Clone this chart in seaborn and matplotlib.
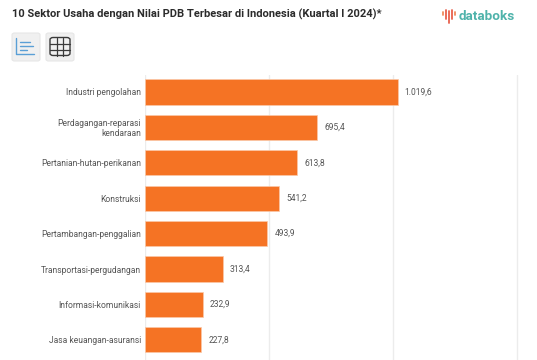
import matplotlib
matplotlib.use('Agg')
import matplotlib.pyplot as plt
import pandas as pd
import seaborn as sns
from matplotlib.patches import FancyBboxPatch
from matplotlib.lines import Line2D

sektor = ['Industri pengolahan', 'Perdagangan-reparasi\nkendaraan', 'Pertanian-hutan-perikanan',
          'Konstruksi', 'Pertambangan-penggalian', 'Transportasi-pergudangan',
          'Informasi-komunikasi', 'Jasa keuangan-asuransi']
nilai = [1019.6, 695.4, 613.8, 541.2, 493.9, 313.4, 232.9, 227.8]
x_ticks = [0, 500, 1000, 1500]

W, H = 537, 360

sns.set_theme(style='white')
plt.rcParams['font.family'] = ['Roboto', 'DejaVu Sans']

df = pd.DataFrame({'sektor': sektor, 'nilai': nilai})

fig = plt.figure(figsize=(W / 100, H / 100), dpi=100)
# axes kira-kira sama dengan area plot di gambar (piksel)
ax = fig.add_axes([145 / W, 0, (W - 145) / W, (H - 75) / H])

sns.barplot(data=df, y='sektor', x='nilai', orient='h', color='#f57324', saturation=1,
            width=0.71, edgecolor='#fbc9a8', linewidth=0.5, ax=ax, zorder=3)

ax.set_xlim(0, 392 / 0.2478)
ax.set_ylim(7.57, -0.48)
ax.set_xticks(x_ticks)
ax.set_xticklabels([])
ax.set_xlabel('')
ax.set_ylabel('')
ax.grid(axis='x', color='#ececec', linewidth=1)
ax.tick_params(axis='x', length=0)
ax.tick_params(axis='y', length=0, pad=3, labelsize=6.15, labelcolor='#555555')
for s in ax.spines.values():
    s.set_visible(False)
for lbl in ax.get_yticklabels():
    lbl.set_linespacing(1.15)

labels = [f'{v:,.1f}'.replace(',', 'X').replace('.', ',').replace('X', '.') for v in nilai]
ax.bar_label(ax.containers[0], labels=labels, padding=5, fontsize=6.15, color='#555555')

fig.text(12 / W, 1 - 14 / H, '10 Sektor Usaha dengan Nilai PDB Terbesar di Indonesia (Kuartal I 2024)*',
         fontsize=8.0, fontweight='bold', color='#2b2b2b', va='center', ha='left')
fig.text(459 / W, 1 - 16 / H, 'databoks', fontsize=9.7, fontweight='bold', color='#4fb3ab',
         va='center', ha='left')


def px_line(xs, ys, color, lw=1.0):
    fig.add_artist(Line2D([x / W for x in xs], [1 - y / H for y in ys], color=color, linewidth=lw,
                          solid_capstyle='round'))


# logo databoks
for x, y0, y1, c in [(443, 12, 15, '#f08a5d'), (446, 10, 19, '#e8604c'), (449, 11, 23, '#e8604c'),
                     (452, 10, 19, '#e8604c'), (455, 12, 15, '#f08a5d')]:
    px_line([x, x], [y0, y1], c, 1.3)

# tombol chart dan tabel
for x0 in [12, 46]:
    fig.add_artist(FancyBboxPatch((x0 / W, 1 - 61 / H), 28 / W, 28 / H,
                                  boxstyle='round,pad=0,rounding_size=0.005',
                                  transform=fig.transFigure, facecolor='#f0f0f0',
                                  edgecolor='#e6e6e6', linewidth=0.8))
px_line([16, 16, 34], [38, 54, 54], '#5a9fd6', 1.0)
for y, x1 in [(42, 30), (46, 33), (50, 27)]:
    px_line([20, x1], [y, y], '#5a9fd6', 1.0)

fig.add_artist(FancyBboxPatch((50 / W, 1 - 55.5 / H), 20 / W, 18 / H,
                              boxstyle='round,pad=0,rounding_size=0.006',
                              transform=fig.transFigure, facecolor='none',
                              edgecolor='#3a3a3a', linewidth=1.0))
for x in [56.5, 63]:
    px_line([x, x], [37.5, 55.5], '#3a3a3a', 0.9)
for y in [43.5, 49.5]:
    px_line([50, 70], [y, y], '#3a3a3a', 0.9)

fig.savefig('out.png', dpi=100)
